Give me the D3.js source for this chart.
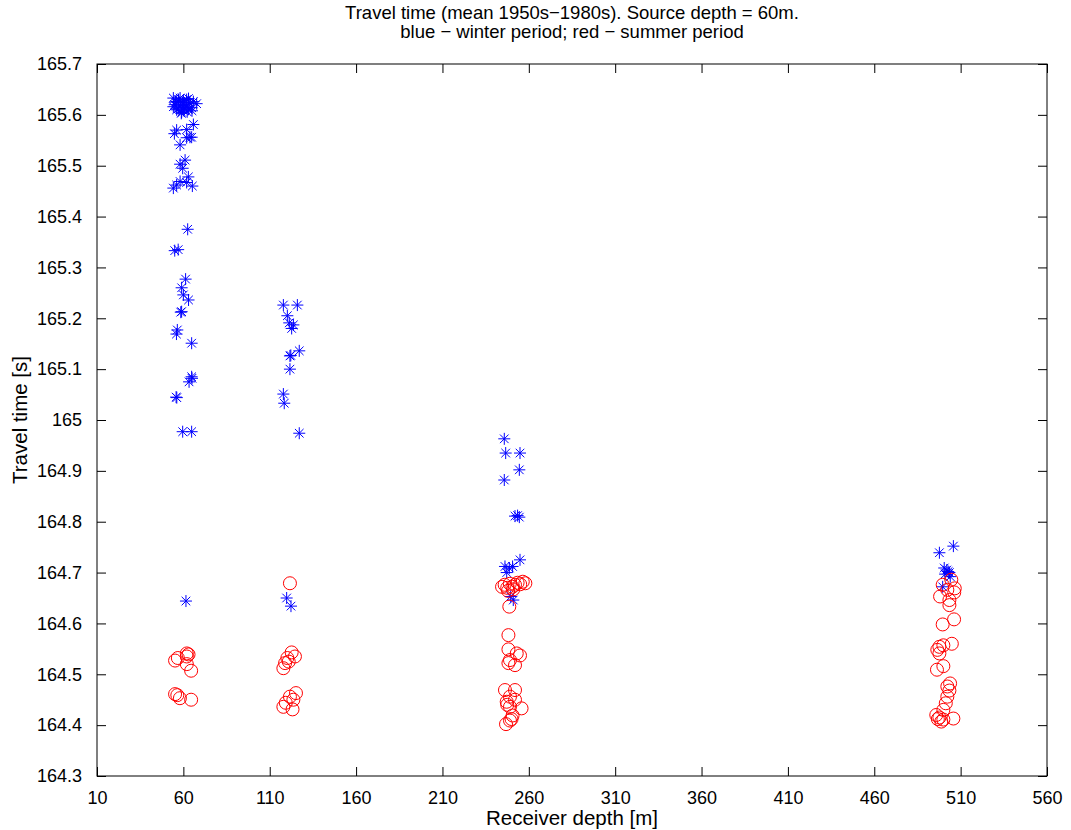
<!DOCTYPE html>
<html><head><meta charset="utf-8">
<script src="https://cdn.jsdelivr.net/npm/d3@7"></script>
<style>body{margin:0;background:#fff;} text{font-family:"Liberation Sans",Arial,sans-serif;}</style>
</head><body><svg id="c" width="1071" height="830"></svg>
<script>
// Winter (blue stars): receiver depth [m], travel time [s]
const winterDepth = [
 54.2,58.1,61.9,65.8,56.1,60,63.8,54.2,58.1,61.9,64.8,56.1,60,62.9,59,67.7,55,57,
 57.2,59.5,61,63,65,55.5,58.8,62.2,60.5,
 65.8,56.1,61.9,64.8,54.8,63.8,61.9,58.1,
 61,58.1,59.6,
 62.9,58.1,61.9,65.2,54.2,56.1,
 62.5,55,57,61.3,59,60,63,59,58.5,56.5,56,64.8,64.8,65,63.3,55.8,56.2,59.6,64.8,61.5,
 117.9,126,120.2,121.3,123.7,122.7,121.7,122.2,127.1,121.7,117.9,118.4,127.1,119.8,122.3,
 245.8,246.6,254.9,254.5,245.8,252,253.5,254.5,254.9,246.2,248.7,250.6,247.2,249.5,251,
 497.7,505.8,500.5,502,503.5,501,504,502.8,499.6
];
const winterTime = [
 165.633,165.633,165.630,165.626,165.626,165.628,165.623,165.616,165.618,165.616,165.614,165.610,165.609,165.611,165.605,165.622,165.620,165.612,
 165.630,165.624,165.620,165.632,165.608,165.625,165.603,165.606,165.614,
 165.581,165.570,165.571,165.556,165.563,165.556,165.555,165.541,
 165.511,165.503,165.495,
 165.478,165.469,165.467,165.460,165.456,165.462,
 165.375,165.333,165.335,165.277,165.260,165.246,165.236,165.213,165.212,165.177,165.169,165.151,165.085,165.082,165.075,165.045,165.044,164.977,164.977,164.644,
 165.226,165.226,165.205,165.191,165.187,165.180,165.126,165.127,165.136,165.100,165.051,165.033,164.974,164.650,164.634,
 164.963,164.935,164.935,164.902,164.882,164.811,164.812,164.809,164.725,164.712,164.709,164.712,164.700,164.653,164.646,
 164.739,164.752,164.709,164.705,164.700,164.697,164.692,164.702,164.672
];
// Summer (red circles)
const summerDepth = [
 62,63,62,55.2,56.8,62,64.5,55.2,56.5,58,64.5,
 121.7,122.7,124.6,120.2,118.9,121,117.9,125.2,121.7,123.7,119.3,117.9,123.2,
 244.5,246,247.5,249,250.5,252,253.5,255,256.5,258,248,251,
 248.7,248.2,248.2,254.9,253,249.1,252,248.2,
 246.2,252,249.1,247.2,252,255.8,249.1,247.5,250.6,249.1,246.8,250,
 499.6,504.6,506.6,502.3,498.1,506.3,503.5,503.5,506.2,499.6,497.7,500,504.9,496.5,497.7,
 500,496.3,503.9,502.3,503.5,502.3,501.4,500,495.9,497.7,500,498.8,505.8,496.8
];
const summerTime = [
 164.541,164.539,164.535,164.527,164.532,164.520,164.507,164.461,164.459,164.453,164.450,
 164.679,164.543,164.535,164.532,164.522,164.525,164.512,164.463,164.456,164.450,164.444,164.436,164.431,
 164.672,164.676,164.670,164.678,164.672,164.676,164.680,164.677,164.682,164.679,164.664,164.667,
 164.633,164.577,164.549,164.537,164.541,164.528,164.518,164.522,
 164.469,164.469,164.456,164.446,164.450,164.433,164.436,164.440,164.419,164.409,164.402,164.412,
 164.676,164.686,164.669,164.666,164.653,164.661,164.636,164.646,164.608,164.598,164.554,164.557,164.560,164.548,164.541,
 164.516,164.509,164.482,164.476,164.468,164.456,164.443,164.430,164.420,164.415,164.411,164.407,164.413,164.412
];
const xTicks = [10,60,110,160,210,260,310,360,410,460,510,560];
const yTicks = [164.3,164.4,164.5,164.6,164.7,164.8,164.9,165,165.1,165.2,165.3,165.4,165.5,165.6,165.7];
const titleLines = ["Travel time (mean 1950s\u22121980s). Source depth = 60m.","blue \u2212 winter period; red \u2212 summer period"];
const xLabel = "Receiver depth [m]";
const yLabel = "Travel time [s]";

const L=97,R=1047,T=64,B=776;
const svg=d3.select("#c");
const x=d3.scaleLinear().domain([10,560]).range([L,R]);
const y=d3.scaleLinear().domain([164.3,165.7]).range([B,T]);
const fmt=d=>String(+d.toFixed(1));
const fs=18;

// box
svg.append("rect").attr("x",L).attr("y",T).attr("width",R-L).attr("height",B-T)
 .attr("fill","none").attr("stroke","#000").attr("stroke-width",1);
const tl=9;
const gx=svg.append("g").attr("transform",`translate(0,${B})`)
 .call(d3.axisBottom(x).tickValues(xTicks).tickSize(-tl).tickPadding(tl+6).tickFormat(d=>d));
const gxt=svg.append("g").attr("transform",`translate(0,${T})`)
 .call(d3.axisTop(x).tickValues(xTicks).tickSize(-tl).tickFormat(""));
const gy=svg.append("g").attr("transform",`translate(${L},0)`)
 .call(d3.axisLeft(y).tickValues(yTicks).tickSize(-tl).tickPadding(tl+6).tickFormat(fmt));
const gyr=svg.append("g").attr("transform",`translate(${R},0)`)
 .call(d3.axisRight(y).tickValues(yTicks).tickSize(-tl).tickFormat(""));
[gx,gxt,gy,gyr].forEach(g=>{g.select(".domain").remove();g.selectAll("line").attr("stroke","#000");
 g.selectAll("text").attr("font-size",fs).attr("fill","#000").attr("font-family","Liberation Sans, Arial, sans-serif");});

// markers
const star=(cx,cy)=>{const a=6,b=4.3;return `M${cx-a},${cy}L${cx+a},${cy}M${cx},${cy-a}L${cx},${cy+a}M${cx-b},${cy-b}L${cx+b},${cy+b}M${cx-b},${cy+b}L${cx+b},${cy-b}`;};
svg.append("g").selectAll("path").data(winterDepth.map((d,i)=>[d,winterTime[i]])).join("path")
 .attr("d",d=>star(x(d[0]),y(d[1]))).attr("stroke","#0000ff").attr("stroke-width",1).attr("fill","none");
svg.append("g").selectAll("circle").data(summerDepth.map((d,i)=>[d,summerTime[i]])).join("circle")
 .attr("cx",d=>x(d[0])).attr("cy",d=>y(d[1])).attr("r",6.5).attr("stroke","#ff0000").attr("stroke-width",1).attr("fill","none");

// texts
svg.append("text").attr("x",(L+R)/2).attr("y",19).attr("text-anchor","middle").attr("font-size",18.5).text(titleLines[0]);
svg.append("text").attr("x",(L+R)/2).attr("y",38).attr("text-anchor","middle").attr("font-size",18.5).text(titleLines[1]);
svg.append("text").attr("x",(L+R)/2).attr("y",825).attr("text-anchor","middle").attr("font-size",20.5).text(xLabel);
svg.append("text").attr("transform",`translate(27,${(T+B)/2}) rotate(-90)`).attr("text-anchor","middle").attr("font-size",20.5).text(yLabel);
</script></body></html>
